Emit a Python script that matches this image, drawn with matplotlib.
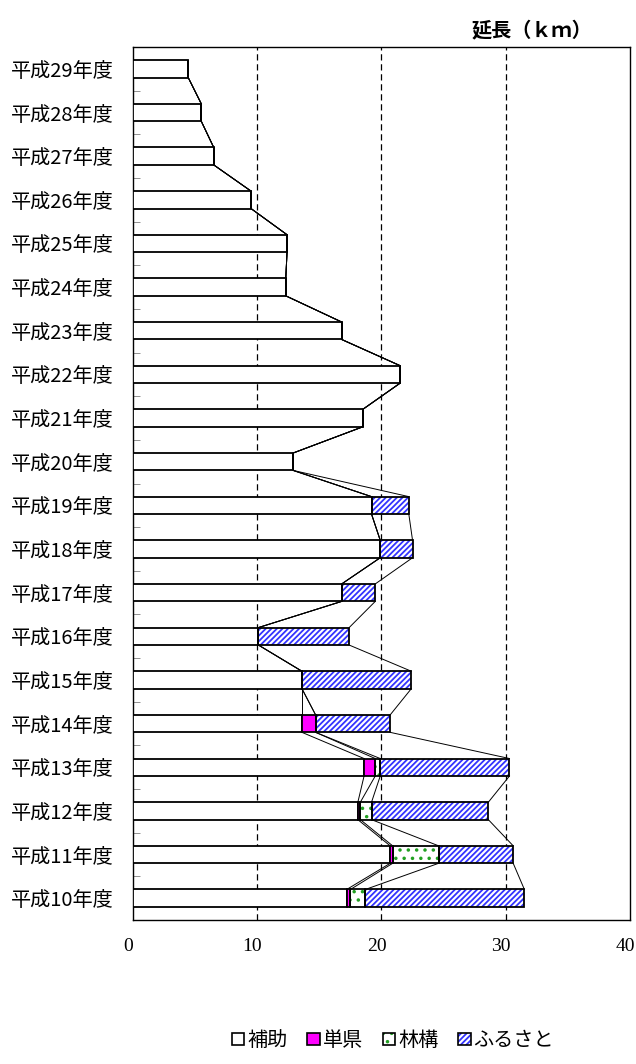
import numpy as np
import matplotlib
matplotlib.use("Agg")
from matplotlib import pyplot as plt
from matplotlib.patches import Patch
from matplotlib.legend_handler import HandlerTuple
from matplotlib.transforms import ScaledTranslation

plt.rcParams['font.family'] = ['Noto Sans CJK JP', 'DejaVu Sans']
plt.rcParams['hatch.linewidth'] = 1.3

# bottom (H10) to top (H29)
years = ['平成10年度', '平成11年度', '平成12年度', '平成13年度', '平成14年度',
         '平成15年度', '平成16年度', '平成17年度', '平成18年度', '平成19年度',
         '平成20年度', '平成21年度', '平成22年度', '平成23年度', '平成24年度',
         '平成25年度', '平成26年度', '平成27年度', '平成28年度', '平成29年度']
hojo = [17.2, 20.7, 18.1, 18.6, 13.6, 13.6, 10.1, 16.8, 19.9, 19.2,
        12.9, 18.5, 21.5, 16.8, 12.3, 12.4, 9.5, 6.5, 5.5, 4.45]
tanken = [0.3, 0.2, 0.2, 0.9, 1.1, 0, 0, 0, 0, 0,
          0, 0, 0, 0, 0, 0, 0, 0, 0, 0]
rinko = [1.2, 3.7, 0.9, 0.4, 0, 0, 0, 0, 0, 0,
         0, 0, 0, 0, 0, 0, 0, 0, 0, 0]
furusato = [12.8, 6.0, 9.4, 10.4, 6.0, 8.8, 7.3, 2.7, 2.6, 3.0,
            0, 0, 0, 0, 0, 0, 0, 0, 0, 0]
series_names = ['補助', '単県', '林構', 'ふるさと']

fig = plt.figure(figsize=(6.36, 10.64), dpi=100)
ax = fig.add_axes([0.209, 0.1353, 0.7816, 0.8205])

y = np.arange(len(years))
h = 0.4
series = [hojo, tanken, rinko, furusato]
faces = ['white', '#FF00FF', 'white', 'white']
hatches = [None, None, '..', '//////']
hcolors = [None, None, '#22A022', '#3333FF']

left = np.zeros(len(years))
ends = []
for vals, fc, ht, hc in zip(series, faces, hatches, hcolors):
    vals = np.array(vals)
    if ht:
        ax.barh(y, vals, h, left=left, color=fc, hatch=ht, edgecolor=hc,
                linewidth=0, zorder=2)
        ax.barh(y, vals, h, left=left, fill=False, edgecolor='black',
                linewidth=1.3, zorder=3)
    else:
        ax.barh(y, vals, h, left=left, color=fc, edgecolor='black',
                linewidth=1.3, zorder=3)
    left = left + vals
    ends.append(left.copy())

# series lines between neighbouring bars
for cum in ends:
    for i in range(len(years) - 1):
        ax.plot([cum[i], cum[i + 1]], [i + h / 2, i + 1 - h / 2],
                color='black', lw=0.7, zorder=4)

ax.set_xlim(0, 40)
ax.set_ylim(-0.5, len(years) - 0.5)
ax.set_xticks([0, 10, 20, 30, 40])
ax.set_xticklabels(['0', '10', '20', '30', '40'], family='Liberation Serif',
                   fontsize=14)
ax.tick_params(axis='x', length=0, pad=13)
shift = ScaledTranslation(-5 / 100, 0, fig.dpi_scale_trans)
for lab in ax.get_xticklabels():
    lab.set_transform(lab.get_transform() + shift)
ax.set_yticks(y)
ax.set_yticklabels(years, fontsize=14.5)
ax.tick_params(axis='y', length=0, pad=14)
ax.set_yticks(np.arange(len(years) - 1) + 0.5, minor=True)
ax.tick_params(axis='y', which='minor', direction='in', length=5,
               color='#808080')
for gx in [10, 20, 30]:
    ax.axvline(gx, color='black', lw=0.9, ls=(0, (5, 3)), zorder=1)
for s in ax.spines.values():
    s.set_linewidth(1.0)

fig.text(0.836, 0.972, '延長（ｋｍ）', ha='center', va='center',
         fontsize=14.5, fontweight='bold')

handles = [
    Patch(facecolor='white', edgecolor='black', linewidth=1.2),
    Patch(facecolor='#FF00FF', edgecolor='black', linewidth=1.2),
    (Patch(facecolor='white', hatch='..', edgecolor='#22A022', linewidth=0),
     Patch(fill=False, edgecolor='black', linewidth=1.2)),
    (Patch(facecolor='white', hatch='//////', edgecolor='#3333FF', linewidth=0),
     Patch(fill=False, edgecolor='black', linewidth=1.2)),
]
fig.legend(handles, series_names, loc='center', bbox_to_anchor=(0.618, 0.022),
           ncol=4, frameon=False, fontsize=14.5, handlelength=0.6,
           handleheight=0.6, handletextpad=0.15, columnspacing=1.0,
           handler_map={tuple: HandlerTuple(ndivide=1)})

fig.savefig('out.png', dpi=100)
